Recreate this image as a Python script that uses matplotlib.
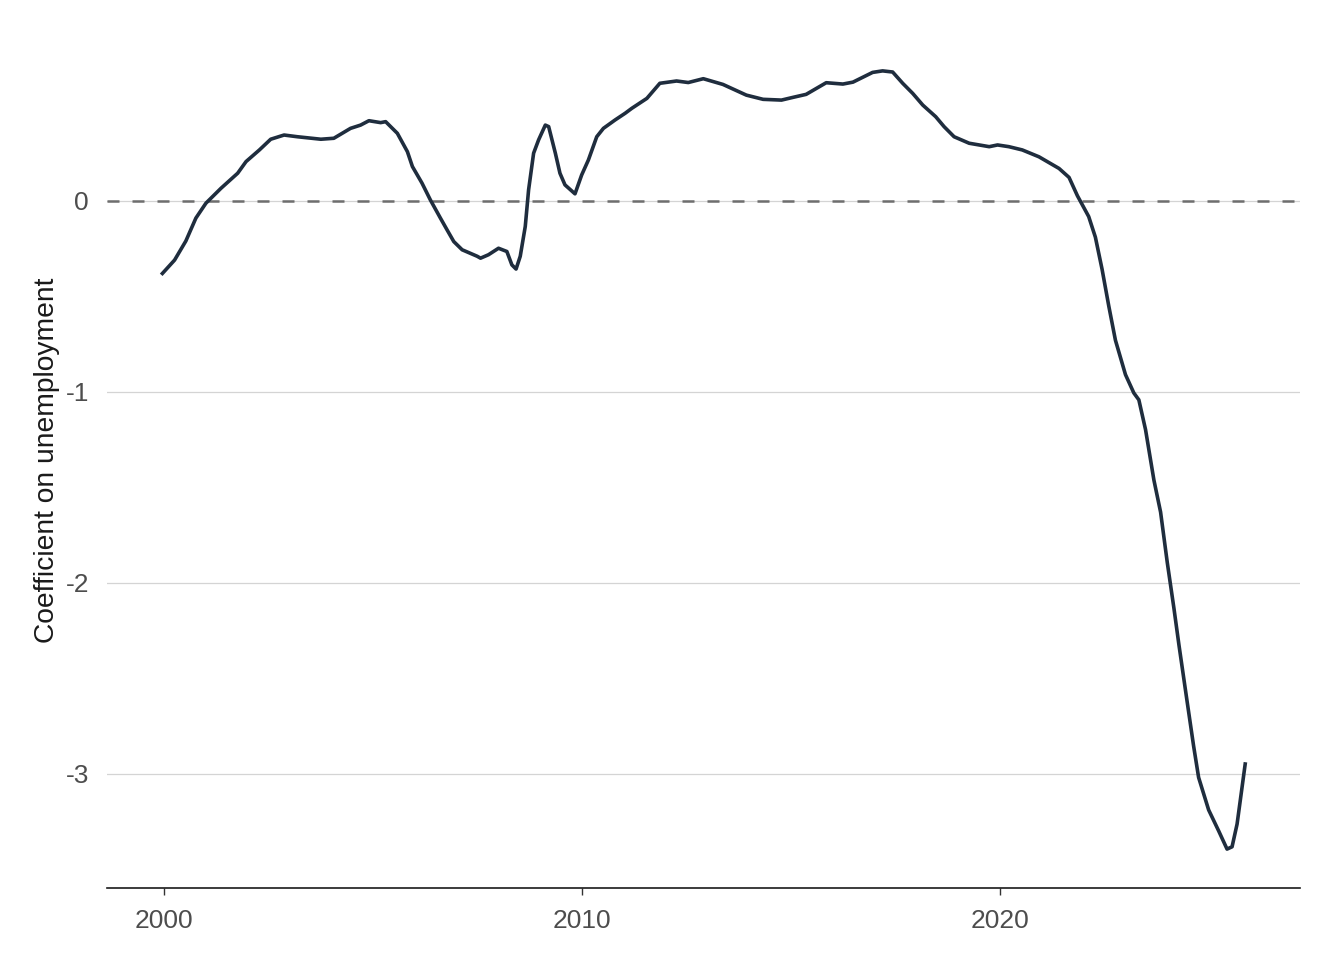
import matplotlib
matplotlib.use("Agg")
from matplotlib import pyplot as plt
import numpy as np

# rolling coefficient
years = [1999.93, 2000.25, 2000.52, 2000.76, 2001.00, 2001.36, 2001.76, 2001.96,
         2002.28, 2002.55, 2002.87, 2003.19, 2003.75, 2004.06, 2004.46, 2004.70,
         2004.90, 2005.18, 2005.30, 2005.58, 2005.82, 2005.94, 2006.17, 2006.37,
         2006.61, 2006.77, 2006.93, 2007.13, 2007.49, 2007.57, 2007.76, 2008.00,
         2008.20, 2008.32, 2008.42, 2008.52, 2008.64, 2008.72, 2008.84, 2008.96,
         2009.12, 2009.20, 2009.36, 2009.47, 2009.59, 2009.83, 2009.99, 2010.15,
         2010.35, 2010.51, 2010.79, 2011.03, 2011.19, 2011.55, 2011.86, 2012.26,
         2012.54, 2012.90, 2013.37, 2013.93, 2014.33, 2014.77, 2015.04, 2015.36,
         2015.84, 2016.24, 2016.48, 2016.95, 2017.19, 2017.43, 2017.67, 2017.91,
         2018.15, 2018.46, 2018.66, 2018.90, 2019.26, 2019.74, 2019.94, 2020.21,
         2020.53, 2020.93, 2021.41, 2021.65, 2021.85, 2022.12, 2022.28, 2022.44,
         2022.60, 2022.76, 2023.00, 2023.20, 2023.32, 2023.48, 2023.68, 2023.84,
         2024.00, 2024.16, 2024.28, 2024.47, 2024.63, 2024.75, 2024.99, 2025.23,
         2025.43, 2025.55, 2025.67, 2025.87]
coef = [-0.387, -0.31, -0.21, -0.09, -0.012, 0.066, 0.145, 0.206,
        0.267, 0.323, 0.345, 0.336, 0.323, 0.328, 0.38, 0.397,
        0.42, 0.41, 0.415, 0.354, 0.258, 0.18, 0.093, 0.005,
        -0.09, -0.152, -0.213, -0.256, -0.29, -0.30, -0.282, -0.248,
        -0.265, -0.335, -0.357, -0.29, -0.134, 0.058, 0.25, 0.32,
        0.397, 0.389, 0.25, 0.145, 0.084, 0.037, 0.136, 0.214,
        0.336, 0.38, 0.424, 0.459, 0.485, 0.537, 0.616, 0.628,
        0.62, 0.64, 0.61, 0.554, 0.532, 0.528, 0.542, 0.558,
        0.619, 0.612, 0.622, 0.673, 0.681, 0.675, 0.616, 0.563,
        0.502, 0.441, 0.389, 0.336, 0.302, 0.284, 0.293, 0.284,
        0.267, 0.231, 0.17, 0.123, 0.027, -0.082, -0.19, -0.358,
        -0.55, -0.73, -0.91, -1.006, -1.042, -1.198, -1.462, -1.63,
        -1.894, -2.135, -2.327, -2.615, -2.855, -3.02, -3.19, -3.30,
        -3.395, -3.383, -3.264, -2.94]

xticks = [2000, 2010, 2020]
yticks = [0, -1, -2, -3]

plt.rcParams['font.family'] = ['Liberation Sans', 'DejaVu Sans']

fig = plt.figure(figsize=(6.72, 4.8), dpi=200)
ax = fig.add_axes([0.0796, 0.075, 0.8874, 0.8917])

ax.plot(years, coef, color='#1f2d3e', lw=1.3, solid_joinstyle='round',
        solid_capstyle='butt', zorder=3)
ax.axhline(0, color='#6e6e6e', lw=0.9, dashes=(4.8, 5.2), zorder=2)

span = max(coef) - min(coef)
ax.set_ylim(min(coef) - 0.05 * span, max(coef) + 0.05 * span)
xspan = years[-1] - years[0]
ax.set_xlim(years[0] - 0.05 * xspan, years[-1] + 0.05 * xspan)

ax.set_xticks(xticks)
ax.set_yticks(yticks)
ax.set_yticklabels([str(v) for v in yticks])
ax.grid(axis='y', color='#d4d4d4', lw=0.45, zorder=1)
ax.grid(axis='x', visible=False)

for s in ['top', 'right', 'left']:
    ax.spines[s].set_visible(False)
ax.spines['bottom'].set_color('#1a1a1a')
ax.spines['bottom'].set_linewidth(0.6)

ax.tick_params(axis='y', length=0, pad=6.5, labelsize=9.5, labelcolor='#4d4d4d')
ax.tick_params(axis='x', length=2.5, width=0.5, color='#333333', pad=5,
               labelsize=9.5, labelcolor='#4d4d4d')
ax.set_ylabel('Coefficient on unemployment', fontsize=10.2, color='#1a1a1a', labelpad=2)

fig.savefig('out.png', dpi=200, facecolor='white')
